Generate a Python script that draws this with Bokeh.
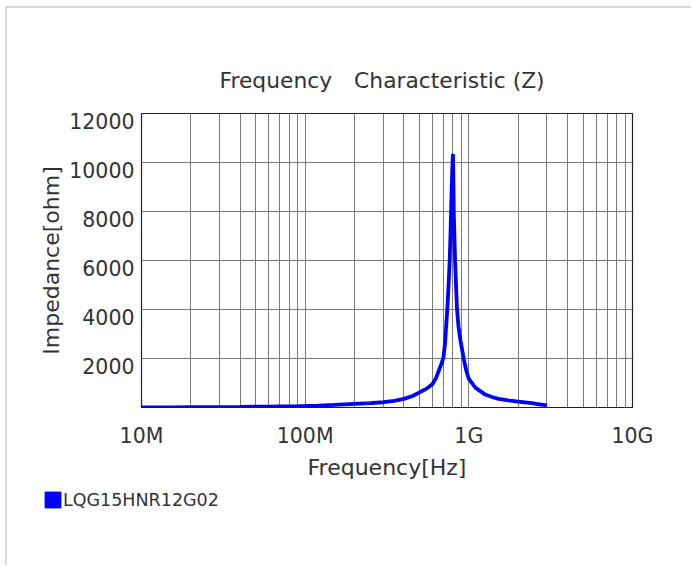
from bokeh.plotting import figure
from bokeh.layouts import column
from bokeh.models import FixedTicker, Legend, LegendItem, Range1d
from bokeh.embed import file_html
from bokeh.resources import INLINE

# ---- data ----
freq_mhz = [10, 15, 20, 30, 40, 50, 60, 70, 80, 90, 100, 120, 150, 200, 250, 300,
            350, 400, 450, 500, 550, 600, 630, 655, 680, 700, 715, 726, 740, 752,
            764, 772, 779, 786, 793, 800, 805, 809, 816, 824, 835, 847, 865, 890,
            931, 965, 1000, 1100, 1260, 1400, 1520, 1750, 2000, 2430, 2700, 3000]
impedance = [6, 8, 12, 18, 25, 32, 38, 45, 50, 56, 62, 80, 105, 145, 175, 215,
             275, 350, 460, 620, 760, 960, 1200, 1500, 1780, 2050, 2600, 3260, 4100, 5000,
             6000, 7000, 8000, 9000, 9800, 10350, 9200, 8000, 7000, 6000, 5000, 4000, 3300, 2720,
             1980, 1500, 1170, 800, 528, 420, 353, 290, 244, 175, 130, 85]
freq_hz = [f * 1e6 for f in freq_mhz]

x_ticks = [10000000, 100000000, 1000000000, 10000000000]
x_tick_labels = ["10M", "100M", "1G", "10G"]
y_ticks = [2000, 4000, 6000, 8000, 10000, 12000]
y_tick_labels = ["2000", "4000", "6000", "8000", "10000", "12000"]
series_name = "LQG15HNR12G02"
title_text = "Frequency\u3000Characteristic (Z)"

FONT = "DejaVu Sans"
TXT = "#333333"
BLUE = "#0000ff"

p = figure(width=684, height=477, x_axis_type="log",
           x_range=Range1d(1e7, 1e10), y_range=Range1d(0, 12000),
           output_backend="svg", toolbar_location=None,
           min_border_left=134, min_border_right=59,
           min_border_top=105, min_border_bottom=78)
p.frame_align = False

p.title.text = title_text
p.title.align = "left"
p.title.offset = 78
p.title.text_font = FONT
p.title.text_font_size = "21.8px"
p.title.text_font_style = "normal"
p.title.text_color = TXT
p.title.standoff = 41

p.outline_line_color = "#222222"
p.outline_line_width = 1.2

# x axis
p.xaxis.ticker = FixedTicker(ticks=x_ticks)
p.xaxis.major_label_overrides = {t: l for t, l in zip(x_ticks, x_tick_labels)}
p.xaxis.axis_label = "Frequency[Hz]"
p.xaxis.major_label_standoff = 16
p.xaxis.axis_label_standoff = 4

# y axis: labels sit a little below their grid lines, as in the reference
LABEL_DROP = 320  # in data units (~8px)
y_label_pos = [v - LABEL_DROP for v in y_ticks]
p.yaxis.ticker = FixedTicker(ticks=y_label_pos)
p.yaxis.major_label_overrides = {t: l for t, l in zip(y_label_pos, y_tick_labels)}
p.yaxis.axis_label = "Impedance[ohm]"
p.yaxis.major_label_standoff = 7
p.yaxis.axis_label_standoff = 2

for ax in (p.xaxis, p.yaxis):
    ax.axis_line_color = None
    ax.major_tick_line_color = None
    ax.minor_tick_line_color = None
    ax.major_tick_out = 0
    ax.major_tick_in = 0
    ax.minor_tick_out = 0
    ax.minor_tick_in = 0
    ax.major_label_text_font = FONT
    ax.major_label_text_font_size = "20.5px"
    ax.major_label_text_color = TXT
    ax.axis_label_text_font = FONT
    ax.axis_label_text_font_size = "22px"
    ax.axis_label_text_font_style = "normal"
    ax.axis_label_text_color = TXT

# grids
xgrid_ticks = []
for d in [1e7, 1e8, 1e9]:
    for m in range(1, 10):
        xgrid_ticks.append(d * m)
xgrid_ticks = xgrid_ticks[1:]
p.xgrid.ticker = FixedTicker(ticks=xgrid_ticks)
p.ygrid.ticker = FixedTicker(ticks=y_ticks[:-1])
p.xgrid.grid_line_color = "#7a7a7a"
p.ygrid.grid_line_color = "#7a7a7a"
p.xgrid.grid_line_width = 1
p.ygrid.grid_line_width = 1

p.line(freq_hz, impedance, line_color=BLUE, line_width=3.8)

# legend strip (a zero-size proxy glyph only supplies the legend swatch)
p2 = figure(width=684, height=80, x_range=Range1d(0, 1), y_range=Range1d(0, 1),
            output_backend="svg", toolbar_location=None,
            x_axis_location=None, y_axis_location=None,
            min_border=0, outline_line_color=None)
p2.frame_align = False
p2.grid.visible = False
proxy = p2.quad(left=[0], right=[0], top=[0], bottom=[0], fill_color=BLUE, line_color=None)
legend = Legend(items=[LegendItem(label=series_name, renderers=[proxy])],
                location=(35, 55), orientation="vertical",
                glyph_width=21, glyph_height=21, label_standoff=0,
                label_height=21, padding=0, margin=0, spacing=0,
                border_line_color=None, background_fill_alpha=0,
                label_text_font=FONT, label_text_font_size="17.5px",
                label_text_color=TXT)
p2.add_layout(legend, "center")

layout = column(p, p2, spacing=0, margin=(6, 0, 0, 5),
                styles={"border-left": "2px solid #d5d8dc", "border-top": "2px solid #d5d8dc"})

open("out.html", "w").write(file_html(layout, INLINE))
